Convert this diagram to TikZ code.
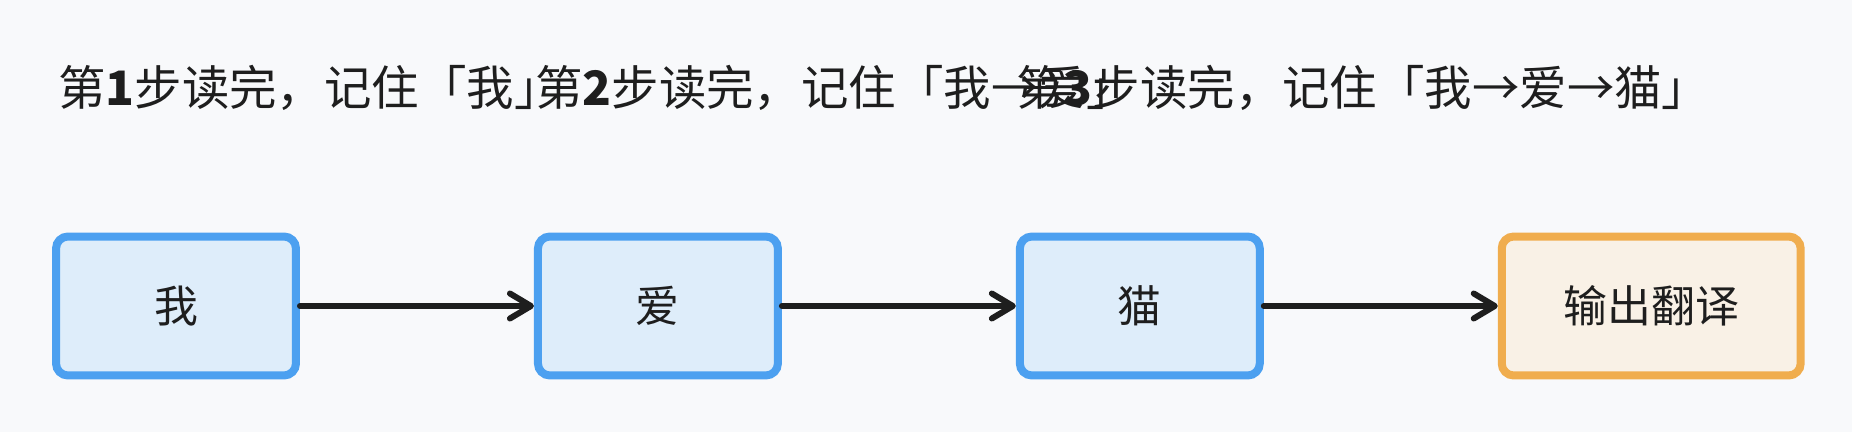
\documentclass[tikz,border=0pt]{standalone}
\usepackage{fontspec}
\usepackage{xcolor}
\usepackage{tikz}
\usetikzlibrary{arrows.meta}
\usetikzlibrary{positioning}
\setmainfont{Noto Sans CJK SC}
\definecolor{fond}{HTML}{F8F9FB}
\definecolor{bleu}{HTML}{4CA0F0}
\definecolor{bleuclair}{HTML}{DEEDFA}
\definecolor{orange}{HTML}{F0AD4E}
\definecolor{orangeclair}{HTML}{F9F1E6}
\definecolor{encre}{HTML}{1E1E1E}
\tikzset{
    motbox/.style={draw=bleu, fill=bleuclair, line width=0.16cm, rounded corners=0.24cm,
        minimum width=4.8cm, minimum height=2.78cm, text=encre,
        font=\fontsize{25pt}{30pt}\selectfont},
    sortiebox/.style={motbox, draw=orange, fill=orangeclair, minimum width=5.98cm},
    etape/.style={anchor=west, inner sep=0pt, text=encre,
        font=\fontsize{27pt}{32pt}\selectfont},
    fleche/.style={draw=encre, line width=0.12cm, line cap=round,
        -{Straight Barb[length=0.42cm, width=0.5cm, round]}}
}

\begin{document}
\begin{tikzpicture}[x=0.02cm, y=-0.02cm]
    % Fond
    \fill[fond] (0, 0) rectangle (1852, 432);
    \useasboundingbox (0, 0) rectangle (1852, 432);

    % Textes des etapes (superposes)
    \node[etape] (etape1) at (58, 88) {第{\bfseries 1}步读完，记住「我」};
    \node[etape] (etape2) at (535, 88) {第{\bfseries 2}步读完，记住「我→爱」};
    \node[etape] (etape3) at (1016, 88) {第{\bfseries 3}步读完，记住「我→爱→猫」};

    % Mots lus un par un
    \node[motbox] (wo) at (176, 306) {我};
    \node[motbox, right=4.68cm of wo] (ai) {爱};
    \node[motbox, right=4.68cm of ai] (mao) {猫};

    % Sortie
    \node[sortiebox, right=4.68cm of mao] (sortie) {输出翻译};

    % Fleches
    \draw[fleche] (wo) -- (ai);
    \draw[fleche] (ai) -- (mao);
    \draw[fleche] (mao) -- (sortie);
\end{tikzpicture}
\end{document}
